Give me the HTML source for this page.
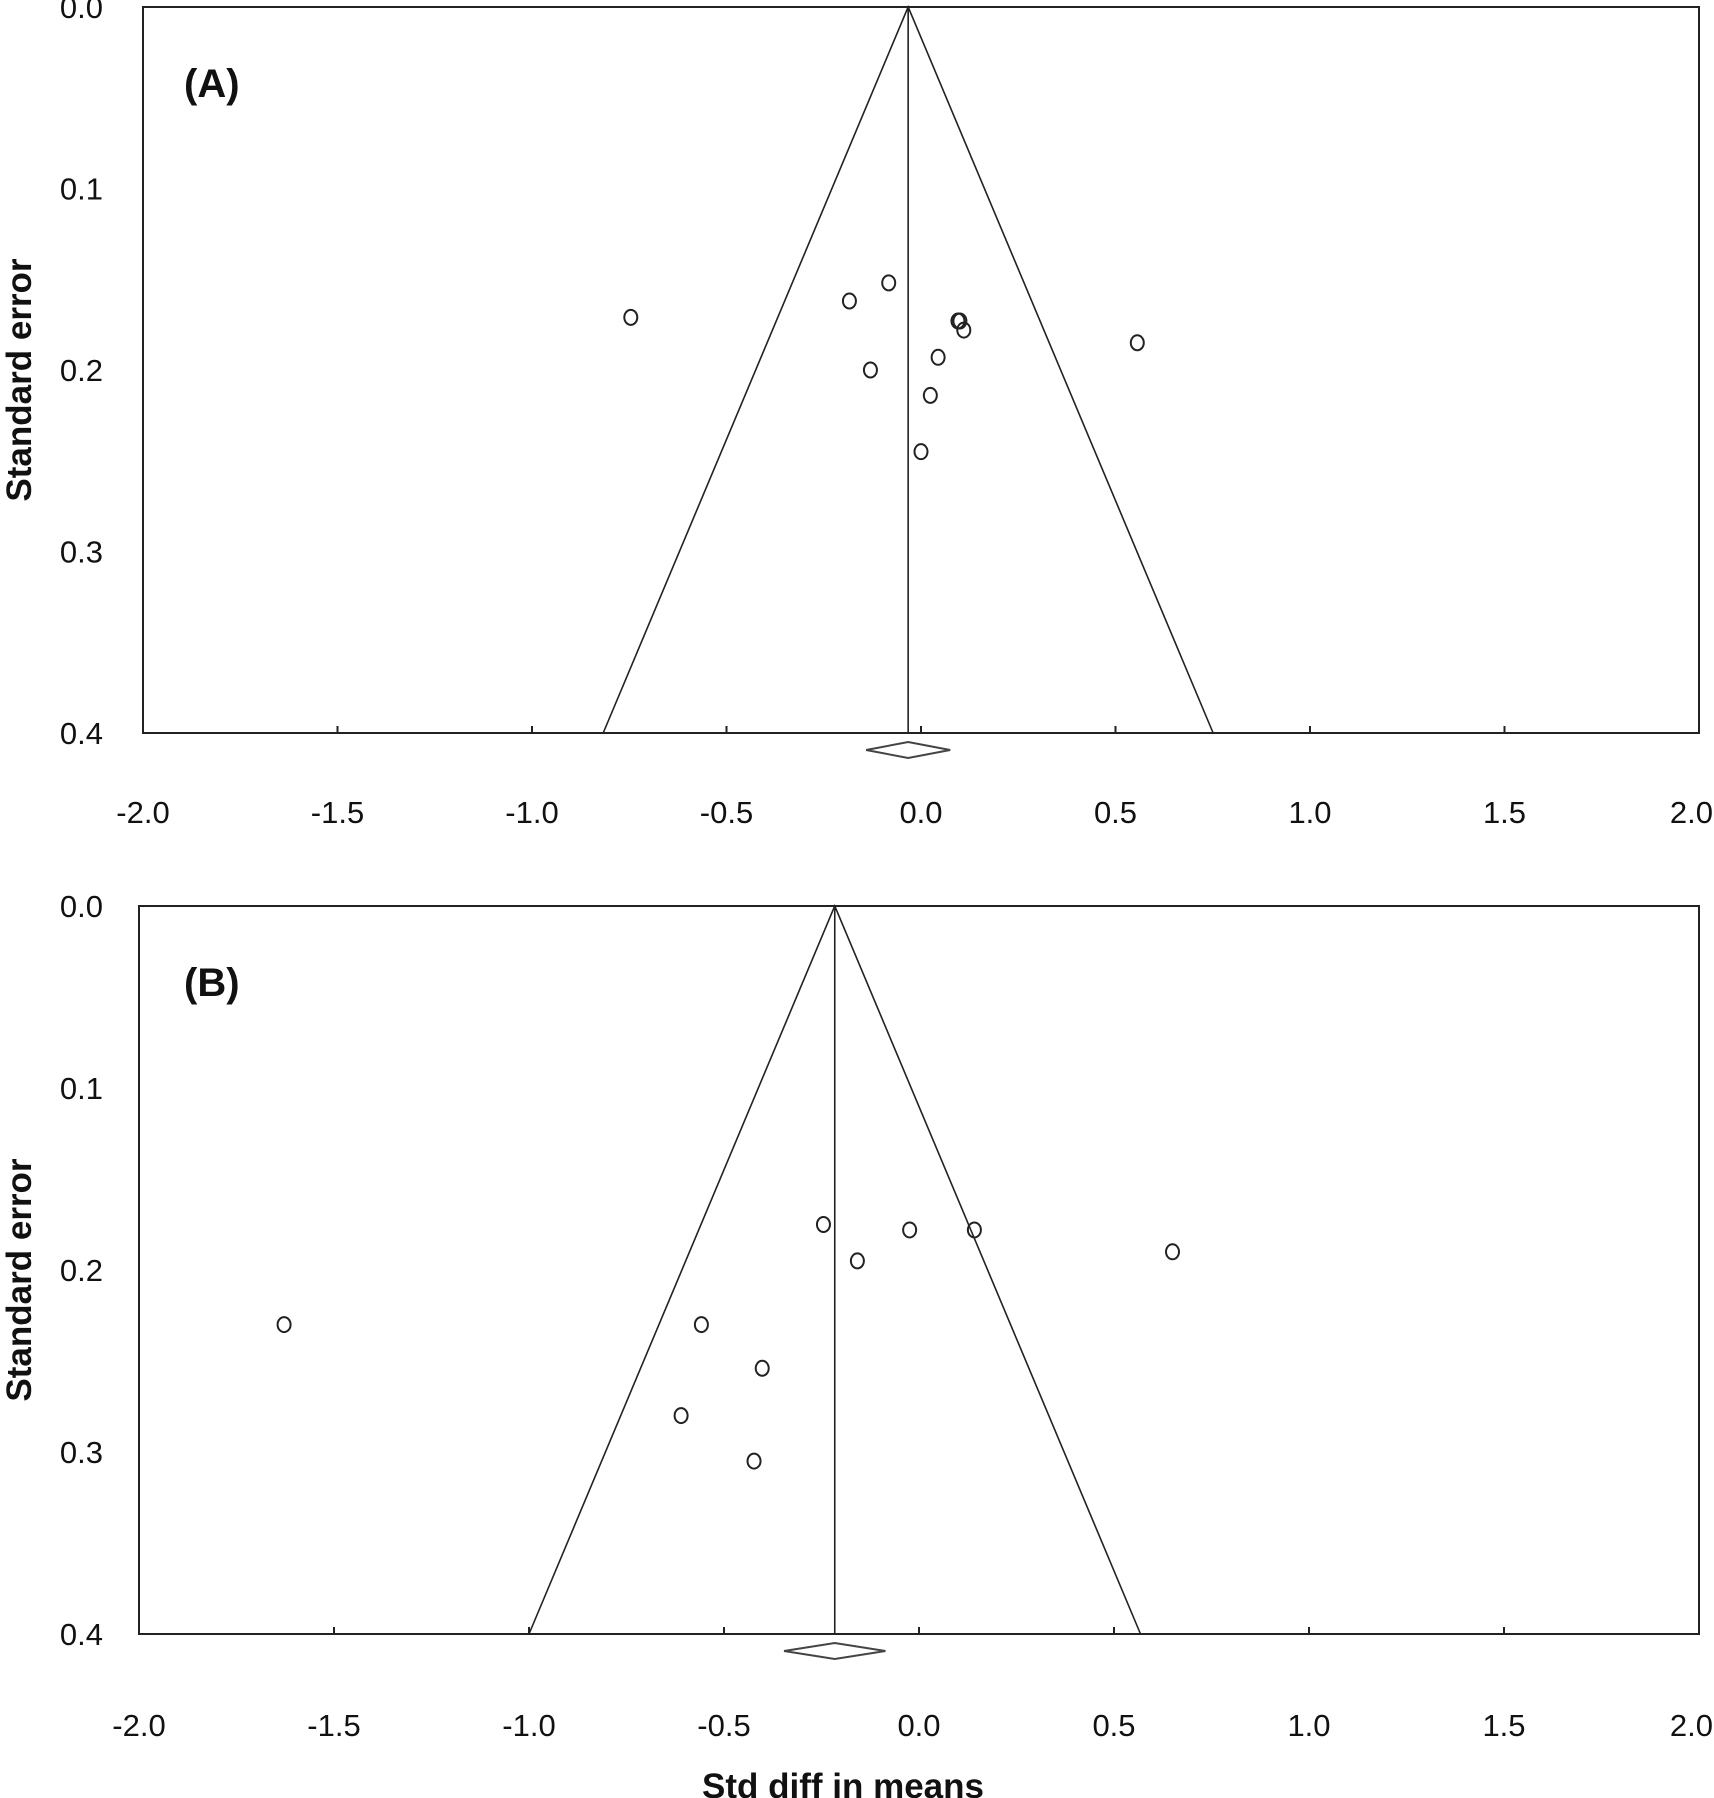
<!DOCTYPE html>
<html><head><meta charset="utf-8"><style>
html,body{margin:0;padding:0;background:#fff}
svg{display:block}
text{font-family:"Liberation Sans",Arial,sans-serif;fill:#111}
</style></head><body>
<svg id="chart" width="1714" height="1798" viewBox="0 0 1714 1798" xmlns="http://www.w3.org/2000/svg"></svg>
<script>
const xTicks = [-2.0, -1.5, -1.0, -0.5, 0.0, 0.5, 1.0, 1.5, 2.0];
const yTicks = [0.0, 0.1, 0.2, 0.3, 0.4];
const panelLabels = ["(A)", "(B)"];
const pooledA = -0.033;
const pooledB = -0.216;
const diamondHalfA = 0.108;
const diamondHalfB = 0.13;
const effectA = [-0.746, -0.083, -0.184, 0.095, 0.10, 0.11, 0.556, 0.044, -0.13, 0.024, 0.0];
const seA = [0.171, 0.152, 0.162, 0.173, 0.173, 0.178, 0.185, 0.193, 0.200, 0.214, 0.245];
const effectB = [-0.245, -0.024, 0.142, -0.158, 0.65, -1.628, -0.558, -0.402, -0.61, -0.423];
const seB = [0.175, 0.178, 0.178, 0.195, 0.190, 0.230, 0.230, 0.254, 0.280, 0.305];

const NS = "http://www.w3.org/2000/svg";
const svg = document.getElementById("chart");
function mk(tag, attrs, parent) {
  const e = document.createElementNS(NS, tag);
  for (const k in attrs) e.setAttribute(k, attrs[k]);
  (parent || svg).appendChild(e);
  return e;
}

function panel(idx, box, pooled, dHalf, effs, ses, labelY) {
  const g = mk("g", {});
  
  
  const xs = v => box.l + (v + 2) / 4 * (box.r - box.l);
  const ys = v => box.t + v / 0.4 * (box.b - box.t);
  const frame = mk("rect", {x: box.l, y: box.t, width: box.r - box.l, height: box.b - box.t, fill: "none", stroke: "#222", "stroke-width": 2}, g);
  
  
  xTicks.forEach((t, i) => {
    const tk = mk("line", {x1: xs(t), x2: xs(t), y1: box.b, y2: box.b - 7, stroke: "#222", "stroke-width": 2}, g);
    
    
    const last = i === xTicks.length - 1;
    const tl = mk("text", {x: last ? 1713 : xs(t), y: labelY, "font-size": 31, "text-anchor": last ? "end" : "middle"}, g);
    tl.textContent = t.toFixed(1);
    
    
  });
  yTicks.forEach(t => {
    const tl = mk("text", {x: 103, y: ys(t) + 11, "font-size": 31, "text-anchor": "end"}, g);
    tl.textContent = t.toFixed(1);
    
    
  });
  const fun = mk("polyline", {points: `${xs(pooled - 1.96 * 0.4)},${box.b} ${xs(pooled)},${box.t} ${xs(pooled + 1.96 * 0.4)},${box.b}`, fill: "none", stroke: "#222", "stroke-width": 1.6}, g);
  
  
  const ml = mk("line", {x1: xs(pooled), x2: xs(pooled), y1: box.t, y2: box.b, stroke: "#222", "stroke-width": 1.6}, g);
  
  
  const dy = box.b + 17;
  const dm = mk("polygon", {points: `${xs(pooled - dHalf)},${dy} ${xs(pooled)},${dy - 8} ${xs(pooled + dHalf)},${dy} ${xs(pooled)},${dy + 8}`, fill: "#fff", stroke: "#444", "stroke-width": 2}, g);
  
  
  effs.forEach((e, i) => {
    const c = mk("ellipse", {cx: xs(e), cy: ys(ses[i]), rx: 6.5, ry: 7.5, fill: "none", stroke: "#222", "stroke-width": 2}, g);
    
    
  });
  const pl = mk("text", {x: 184, y: box.t + 90, "font-size": 40, "font-weight": "bold"}, g);
  pl.textContent = panelLabels[idx];
  
  
  const cy = (box.t + box.b) / 2 + 10;
  const yt = mk("text", {x: 0, y: 0, "font-size": 35, "font-weight": "bold", "text-anchor": "middle", transform: `translate(31,${cy}) rotate(-90)`}, g);
  yt.textContent = "Standard error";
  
  
}

panel(0, {l: 143, r: 1699, t: 7, b: 733}, pooledA, diamondHalfA, effectA, seA, 823);
panel(1, {l: 139, r: 1699, t: 906, b: 1634}, pooledB, diamondHalfB, effectB, seB, 1736);

const xt = mk("text", {x: 843, y: 1798, "font-size": 35, "font-weight": "bold", "text-anchor": "middle"});
xt.textContent = "Std diff in means";


</script>
</body></html>
